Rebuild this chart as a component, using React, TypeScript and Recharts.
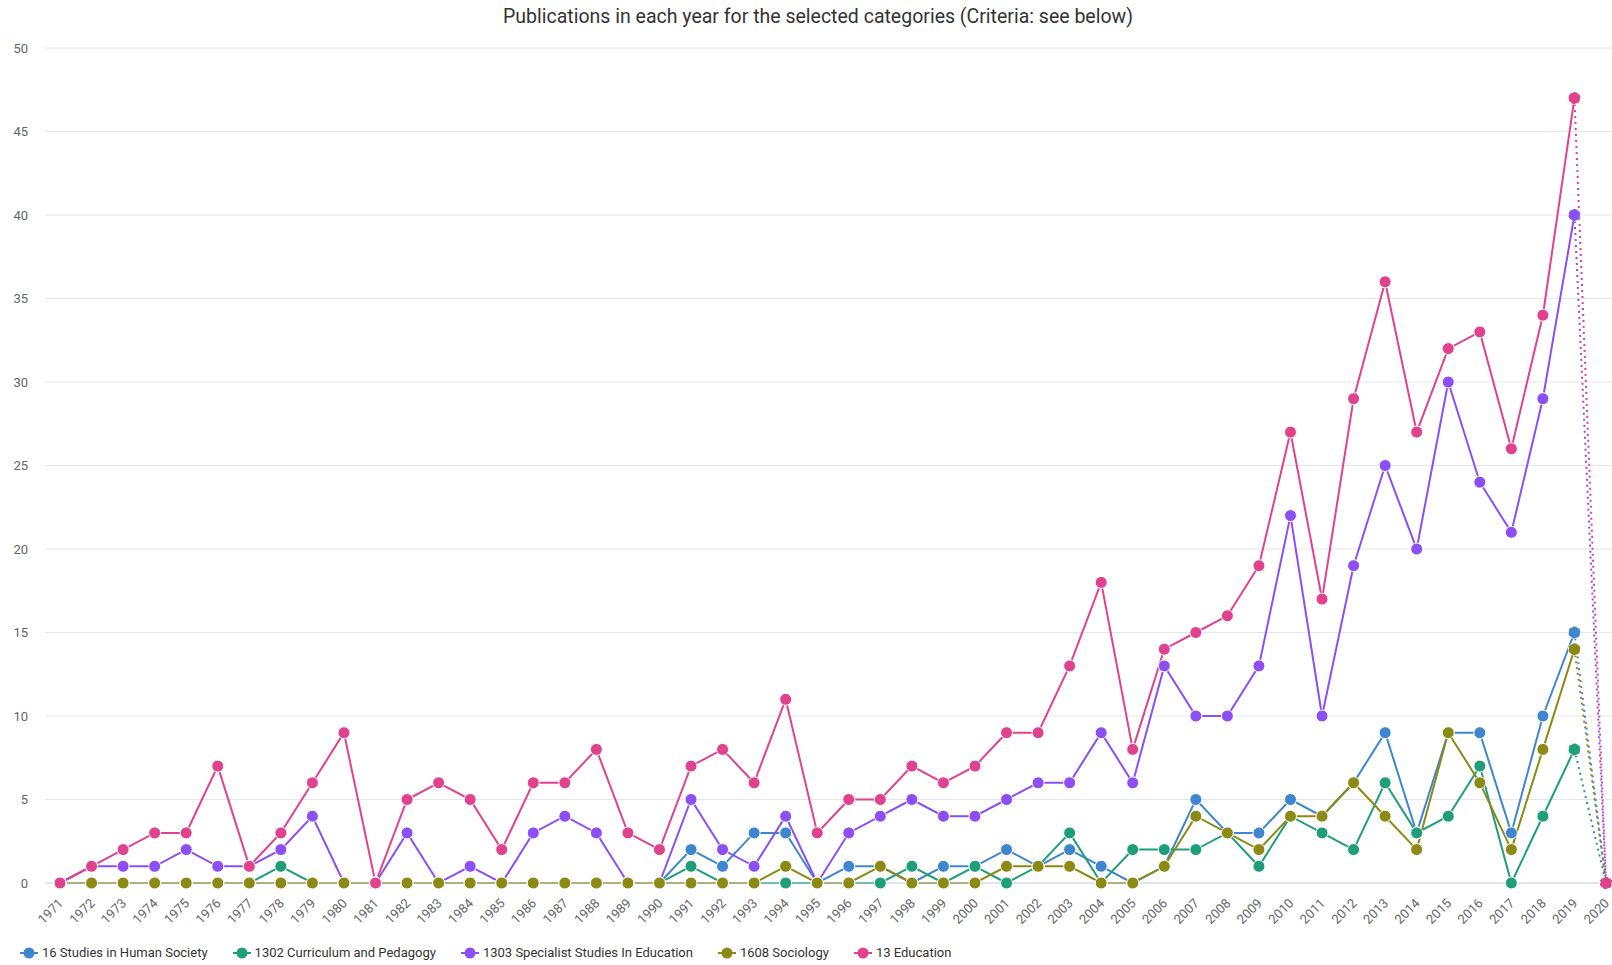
import { LineChart, Line, XAxis, YAxis, CartesianGrid } from 'recharts'

const years = [
  1971, 1972, 1973, 1974, 1975, 1976, 1977, 1978, 1979, 1980,
  1981, 1982, 1983, 1984, 1985, 1986, 1987, 1988, 1989, 1990,
  1991, 1992, 1993, 1994, 1995, 1996, 1997, 1998, 1999, 2000,
  2001, 2002, 2003, 2004, 2005, 2006, 2007, 2008, 2009, 2010,
  2011, 2012, 2013, 2014, 2015, 2016, 2017, 2018, 2019, 2020,
]

const humanSociety = [
  0, 0, 0, 0, 0, 0, 0, 0, 0, 0,
  0, 0, 0, 0, 0, 0, 0, 0, 0, 0,
  2, 1, 3, 3, 0, 1, 1, 0, 1, 1,
  2, 1, 2, 1, 0, 1, 5, 3, 3, 5,
  4, 6, 9, 3, 9, 9, 3, 10, 15, 0,
]

const curriculum = [
  0, 0, 0, 0, 0, 0, 0, 1, 0, 0,
  0, 0, 0, 0, 0, 0, 0, 0, 0, 0,
  1, 0, 0, 0, 0, 0, 0, 1, 0, 1,
  0, 1, 3, 0, 2, 2, 2, 3, 1, 4,
  3, 2, 6, 3, 4, 7, 0, 4, 8, 0,
]

const specialist = [
  0, 1, 1, 1, 2, 1, 1, 2, 4, 0,
  0, 3, 0, 1, 0, 3, 4, 3, 0, 0,
  5, 2, 1, 4, 0, 3, 4, 5, 4, 4,
  5, 6, 6, 9, 6, 13, 10, 10, 13, 22,
  10, 19, 25, 20, 30, 24, 21, 29, 40, 0,
]

const sociology = [
  0, 0, 0, 0, 0, 0, 0, 0, 0, 0,
  0, 0, 0, 0, 0, 0, 0, 0, 0, 0,
  0, 0, 0, 1, 0, 0, 1, 0, 0, 0,
  1, 1, 1, 0, 0, 1, 4, 3, 2, 4,
  4, 6, 4, 2, 9, 6, 2, 8, 14, 0,
]

const education = [
  0, 1, 2, 3, 3, 7, 1, 3, 6, 9,
  0, 5, 6, 5, 2, 6, 6, 8, 3, 2,
  7, 8, 6, 11, 3, 5, 5, 7, 6, 7,
  9, 9, 13, 18, 8, 14, 15, 16, 19, 27,
  17, 29, 36, 27, 32, 33, 26, 34, 47, 0,
]

const yTicks = [0, 5, 10, 15, 20, 25, 30, 35, 40, 45, 50]

const series = [
  { key: 's16', name: '16 Studies in Human Society', values: humanSociety, color: '#3f86cf' },
  { key: 's1302', name: '1302 Curriculum and Pedagogy', values: curriculum, color: '#1f9f79' },
  { key: 's1303', name: '1303 Specialist Studies In Education', values: specialist, color: '#8b4ff3' },
  { key: 's1608', name: '1608 Sociology', values: sociology, color: '#8a8a14' },
  { key: 's13', name: '13 Education', values: education, color: '#e0428e' },
]

// last year is incomplete, so it is drawn with a dotted segment
const lastYear = years[years.length - 1]

const data = years.map((year, i) => {
  const row: Record<string, number | null> = { year }
  series.forEach(s => {
    row[s.key] = year < lastYear ? s.values[i] : null
    row[s.key + '_open'] = year >= lastYear - 1 ? s.values[i] : null
  })
  return row
})

const FONT = 'Roboto, "Noto Sans", sans-serif'

function YearTick({ x, y, payload }: any) {
  return (
    <g transform={`translate(${x + 4},${y + 19})`}>
      <text x={0} y={0} textAnchor="end" transform="rotate(-45)" fill="#666" fontSize={13} fontFamily={FONT}>
        {payload.value}
      </text>
    </g>
  )
}

function LegendRow() {
  return (
    <div
      style={{
        position: 'absolute',
        left: 20,
        top: 945,
        display: 'flex',
        gap: 25,
        alignItems: 'center',
        fontFamily: FONT,
        fontSize: 13,
        color: '#333',
        whiteSpace: 'nowrap',
      }}
    >
      {series.map(s => (
        <div key={s.key} style={{ display: 'flex', alignItems: 'center' }}>
          <svg width={18} height={14} style={{ marginRight: 4 }}>
            <line x1={0} y1={7} x2={18} y2={7} stroke={s.color} strokeWidth={2} />
            <circle cx={9} cy={7} r={5.5} fill={s.color} />
          </svg>
          <span>{s.name}</span>
        </div>
      ))}
    </div>
  )
}

export default function App() {
  return (
    <div style={{ position: 'absolute', left: 0, top: 0, width: 1612, height: 965, background: '#fff' }}>
      <div
        style={{
          position: 'absolute',
          left: 0,
          width: 1636,
          top: 5,
          textAlign: 'center',
          fontFamily: FONT,
          fontSize: 19.5,
          color: '#333',
        }}
      >
        Publications in each year for the selected categories (Criteria: see below)
      </div>
      <LineChart
        width={1612}
        height={965}
        data={data}
        margin={{ top: 48, right: 0, bottom: 22, left: 0 }}
      >
        <CartesianGrid vertical={false} stroke="#e6e6e6" />
        <XAxis
          dataKey="year"
          height={60}
          interval={0}
          padding={{ left: 15, right: 6 }}
          tickLine={false}
          tickSize={0}
          axisLine={{ stroke: '#ccd6eb' }}
          tick={<YearTick />}
        />
        <YAxis
          width={45}
          domain={[0, 50]}
          ticks={yTicks}
          axisLine={false}
          tickLine={false}
          tickSize={0}
          tickMargin={17}
          tick={{ fill: '#666', fontSize: 13, fontFamily: FONT }}
        />
        {series.flatMap(s => [
          <Line
            key={s.key}
            dataKey={s.key}
            stroke={s.color}
            strokeWidth={2}
            dot={{ r: 6, fill: s.color, stroke: '#fff', strokeWidth: 1 }}
            activeDot={false}
            isAnimationActive={false}
          />,
          <Line
            key={s.key + '_open'}
            dataKey={s.key + '_open'}
            stroke={s.color}
            strokeWidth={2}
            strokeDasharray="2 4"
            dot={{ r: 6, fill: s.color, stroke: '#fff', strokeWidth: 1 }}
            activeDot={false}
            isAnimationActive={false}
          />,
        ])}
      </LineChart>
      <LegendRow />
    </div>
  )
}
